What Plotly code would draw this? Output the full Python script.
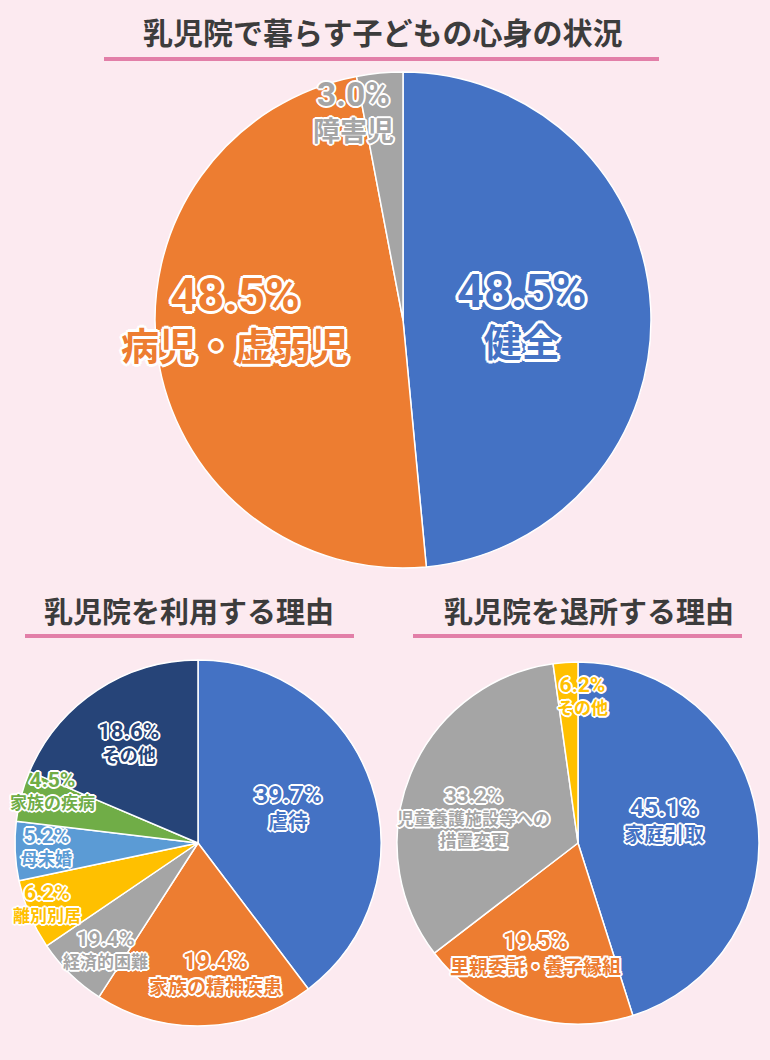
import plotly.graph_objects as go

W, H = 770, 1060
BG = "#FCEAF0"
FONT = "Noto Sans CJK JP"
LABEL_FONT = "Roboto, Noto Sans CJK JP"

# ---------------- data ----------------
top_title = "乳児院で暮らす子どもの心身の状況"
top_labels = ["健全", "病児・虚弱児", "障害児"]
top_values = [48.5, 48.5, 3.0]
top_pct = ["48.5%", "48.5%", "3.0%"]
top_colors = ["#4472C4", "#ED7D31", "#A5A5A5"]

left_title = "乳児院を利用する理由"
left_labels = ["虐待", "家族の精神疾患", "経済的困難", "離別別居", "母未婚", "家族の疾病", "その他"]
left_values = [39.7, 19.4, 6.4, 6.2, 5.2, 4.5, 18.6]
left_pct = ["39.7%", "19.4%", "19.4%", "6.2%", "5.2%", "4.5%", "18.6%"]
left_colors = ["#4472C4", "#ED7D31", "#A5A5A5", "#FFC000", "#5B9BD5", "#70AD47", "#264478"]

right_title = "乳児院を退所する理由"
right_labels = ["家庭引取", "里親委託・養子縁組", "児童養護施設等への<br>措置変更", "その他"]
right_values = [45.1, 19.5, 33.2, 2.2]
right_pct = ["45.1%", "19.5%", "33.2%", "6.2%"]
right_colors = ["#4472C4", "#ED7D31", "#A5A5A5", "#FFC000"]

# ---------------- layout helpers (pixel positions) ----------------
def px(x, y):
    return x / W, 1 - y / H

def dom(x0, x1, y0, y1):
    return dict(x=[x0 / W, x1 / W], y=[1 - y1 / H, 1 - y0 / H])

pies = [
    (top_labels, top_values, top_colors, dom(155, 651, 72, 568)),
    (left_labels, left_values, left_colors, dom(15, 381, 660, 1026)),
    (right_labels, right_values, right_colors, dom(397, 759, 662, 1024)),
]

fig = go.Figure()
for labels, values, colors, d in pies:
    fig.add_trace(go.Pie(
        labels=labels, values=values, sort=False, direction="clockwise",
        rotation=0, marker=dict(colors=colors, line=dict(color="white", width=1.5)),
        textinfo="none", hoverinfo="label+value", showlegend=False, domain=d,
    ))

# label placement: (center_x, center_y, font size)
top_pos = [(522, 314, 38), (235, 318, 38), (353, 111, 27)]
left_pos = [(288, 807, 20), (215, 973, 19), (106, 949, 17), (47, 903, 17), (46, 846, 17),
            (53, 790, 17), (128, 742, 18)]
right_pos = [(664, 820, 20), (535, 953, 19), (473, 817, 17), (582, 695, 17)]

def outline(w):
    parts = []
    for dx, dy in [(w, 0), (-w, 0), (0, w), (0, -w), (w * .7, w * .7), (-w * .7, -w * .7),
                   (w * .7, -w * .7), (-w * .7, w * .7)]:
        parts.append(f"{dx:.1f}px {dy:.1f}px 0 #fff")
    return ", ".join(parts)

anns = []
for labels, pcts, colors, pos in [(top_labels, top_pct, top_colors, top_pos),
                                 (left_labels, left_pct, left_colors, left_pos),
                                 (right_labels, right_pct, right_colors, right_pos)]:
    for lab, pct, col, (x, y, fs) in zip(labels, pcts, colors, pos):
        ow = 3 if fs > 30 else 2
        ax, ay = px(x, y)
        txt = f"<span style='font-size:{fs * 1.24:.1f}px'>{pct}</span><br>{lab}"
        anns.append(dict(text=txt, x=ax, y=ay, xref="paper", yref="paper",
                         xanchor="center", yanchor="middle", showarrow=False,
                         font=dict(family=LABEL_FONT, size=fs, color=col, weight="bold",
                                   shadow=outline(ow))))

# titles
for txt, x, y, s in [(top_title, 382, 31, 30), (left_title, 189, 610, 29), (right_title, 589, 610, 29)]:
    ax, ay = px(x, y)
    anns.append(dict(text=txt, x=ax, y=ay, xref="paper", yref="paper", xanchor="center",
                     yanchor="middle", showarrow=False,
                     font=dict(family=FONT, size=s, color="#3C3C3C", weight="bold")))

shapes = []
for x0, x1, y in [(104, 659, 59), (25, 354, 636), (413, 742, 636)]:
    a0, b = px(x0, y)
    a1, _ = px(x1, y)
    shapes.append(dict(type="line", xref="paper", yref="paper", x0=a0, x1=a1, y0=b, y1=b,
                       line=dict(color="#E27FA8", width=4)))

fig.update_layout(width=W, height=H, margin=dict(l=0, r=0, t=0, b=0),
                  paper_bgcolor=BG, plot_bgcolor=BG, annotations=anns, shapes=shapes,
                  font=dict(family=FONT))
fig.write_html("out.html", config={"displayModeBar": False},
               post_script="document.body.style.margin='0';document.body.style.padding='0';"
                           "document.body.style.overflow='hidden';")
